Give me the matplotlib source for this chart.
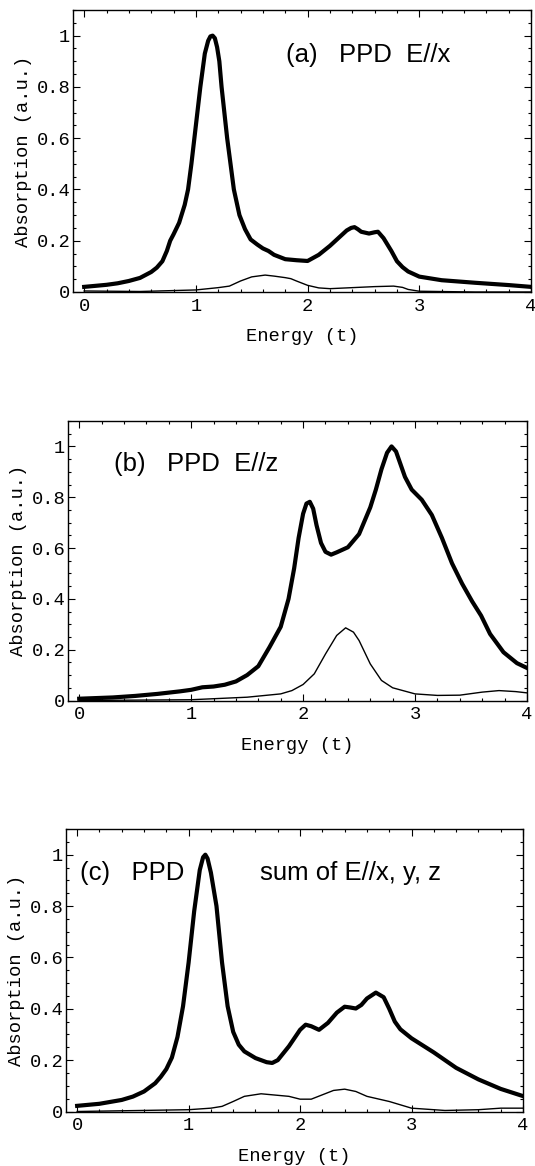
import matplotlib
matplotlib.use('Agg')
import matplotlib.pyplot as plt
from matplotlib.ticker import MultipleLocator

# ---- panel (a): PPD E//x ----
xa_thick = [0, 0.1, 0.2, 0.3, 0.4, 0.5, 0.6, 0.65, 0.7, 0.74, 0.77, 0.8, 0.85, 0.9, 0.93,
            0.96, 1.0, 1.04, 1.08, 1.11, 1.13, 1.15, 1.17, 1.19, 1.21, 1.23, 1.255, 1.28,
            1.31, 1.34, 1.39, 1.44, 1.49, 1.55, 1.6, 1.65, 1.7, 1.8, 1.9, 2.0, 2.1, 2.2,
            2.3, 2.35, 2.39, 2.42, 2.45, 2.48, 2.55, 2.6, 2.63, 2.68, 2.75, 2.8, 2.85,
            2.9, 3.0, 3.2, 3.5, 3.8, 4.0]
ya_thick = [0.020, 0.024, 0.028, 0.034, 0.043, 0.055, 0.078, 0.095, 0.12, 0.16, 0.2,
            0.225, 0.27, 0.34, 0.4, 0.5, 0.65, 0.8, 0.93, 0.98, 0.997, 1.0, 0.99, 0.955,
            0.9, 0.8, 0.7, 0.6, 0.5, 0.4, 0.3, 0.245, 0.205, 0.185, 0.17, 0.16, 0.145,
            0.128, 0.124, 0.121, 0.145, 0.18, 0.22, 0.24, 0.25, 0.253, 0.245, 0.235,
            0.228, 0.233, 0.235, 0.21, 0.16, 0.12, 0.097, 0.08, 0.06, 0.046, 0.036,
            0.027, 0.02]
xa_thin = [0, 0.5, 1.0, 1.2, 1.3, 1.4, 1.5, 1.62, 1.7, 1.8, 1.85, 1.9, 2.0, 2.1, 2.2,
           2.4, 2.6, 2.77, 2.85, 2.9, 3.0, 3.5, 4.0]
ya_thin = [0.004, 0.002, 0.008, 0.017, 0.023, 0.043, 0.059, 0.066, 0.062, 0.056,
           0.052, 0.043, 0.026, 0.016, 0.013, 0.017, 0.021, 0.023, 0.018, 0.01,
           0.003, 0.0, 0.0]

# ---- panel (b): PPD E//z ----
xb_thick = [0, 0.3, 0.5, 0.7, 0.9, 1.0, 1.1, 1.2, 1.3, 1.4, 1.5, 1.6, 1.7, 1.8, 1.87,
            1.92, 1.96, 2.0, 2.03, 2.06, 2.09, 2.12, 2.16, 2.2, 2.25, 2.3, 2.4, 2.5,
            2.6, 2.65, 2.7, 2.75, 2.79, 2.83, 2.87, 2.91, 2.97, 3.06, 3.15, 3.24, 3.33,
            3.42, 3.51, 3.59, 3.67, 3.79, 3.91, 4.0]
yb_thick = [0.007, 0.012, 0.018, 0.026, 0.036, 0.042, 0.052, 0.055, 0.062, 0.075,
            0.1, 0.135, 0.21, 0.29, 0.4, 0.52, 0.64, 0.735, 0.775, 0.782, 0.755,
            0.69, 0.62, 0.585, 0.574, 0.583, 0.603, 0.655, 0.76, 0.83, 0.91, 0.975,
            1.0, 0.98, 0.93, 0.88, 0.83, 0.79, 0.73, 0.64, 0.54, 0.46, 0.39, 0.334,
            0.262, 0.19, 0.147, 0.128]
xb_thin = [0, 1.0, 1.5, 1.8, 1.9, 2.0, 2.1, 2.2, 2.3, 2.38, 2.45, 2.5, 2.6, 2.7, 2.8,
           3.0, 3.2, 3.4, 3.6, 3.75, 3.9, 4.0]
yb_thin = [0.0, 0.003, 0.013, 0.026, 0.039, 0.063, 0.105, 0.183, 0.256, 0.286,
           0.269, 0.236, 0.144, 0.079, 0.05, 0.026, 0.02, 0.021, 0.033, 0.039,
           0.035, 0.03]

# ---- panel (c): PPD sum of E//x, y, z ----
xc_thick = [0, 0.2, 0.4, 0.5, 0.6, 0.7, 0.75, 0.8, 0.85, 0.9, 0.95, 1.0, 1.05, 1.1,
            1.13, 1.15, 1.17, 1.2, 1.25, 1.3, 1.35, 1.4, 1.45, 1.5, 1.6, 1.7, 1.75,
            1.8, 1.9, 2.0, 2.05, 2.1, 2.17, 2.25, 2.33, 2.4, 2.45, 2.5, 2.55, 2.6,
            2.68, 2.75, 2.8, 2.85, 2.9, 3.0, 3.2, 3.4, 3.6, 3.8, 4.0]
yc_thick = [0.022, 0.03, 0.045, 0.058, 0.078, 0.11, 0.135, 0.165, 0.21, 0.29, 0.41,
            0.58, 0.78, 0.94, 0.99, 1.0, 0.985, 0.93, 0.8, 0.58, 0.41, 0.31, 0.26,
            0.234, 0.208, 0.192, 0.189, 0.2, 0.254, 0.318, 0.338, 0.332, 0.318,
            0.345, 0.385, 0.408, 0.405, 0.401, 0.415, 0.44, 0.463, 0.445, 0.4, 0.35,
            0.32, 0.285, 0.23, 0.17, 0.125, 0.088, 0.06]
xc_thin = [0, 1.0, 1.2, 1.3, 1.4, 1.5, 1.65, 1.8, 1.9, 2.0, 2.1, 2.2, 2.3, 2.4, 2.5,
           2.6, 2.8, 3.0, 3.3, 3.6, 3.8, 4.0]
yc_thin = [0.0, 0.007, 0.013, 0.02, 0.039, 0.059, 0.069, 0.063, 0.059, 0.048,
           0.048, 0.065, 0.082, 0.087, 0.078, 0.059, 0.039, 0.013, 0.004, 0.007,
           0.013, 0.013]

x_ticks = [0, 1, 2, 3, 4]
x_tick_labels = ['0', '1', '2', '3', '4']
y_ticks = [0, 0.2, 0.4, 0.6, 0.8, 1.0]
y_tick_labels = ['0', '0.2', '0.4', '0.6', '0.8', '1']

MONO = 'Liberation Mono'
SANS = 'Liberation Sans'
W, H = 535, 1166


def make_axes(fig, left, right, top, bottom):
    """axes from pixel box of the frame"""
    return fig.add_axes([left / W, (H - bottom) / H, (right - left) / W, (bottom - top) / H])


def style(ax):
    ax.set_xlim(-0.1, 4.0)
    ax.set_ylim(0, 1.1)
    ax.set_xticks(x_ticks)
    ax.set_xticklabels(x_tick_labels, family=MONO, fontsize=13.5)
    ax.set_yticks(y_ticks)
    ax.set_yticklabels(y_tick_labels, family=MONO, fontsize=13.5)
    ax.xaxis.set_minor_locator(MultipleLocator(0.2))
    ax.yaxis.set_minor_locator(MultipleLocator(0.05))
    ax.tick_params(which='both', direction='in', top=True, right=True, width=0.8)
    ax.tick_params(which='major', length=5)
    ax.tick_params(which='minor', length=2.5)
    ax.tick_params(axis='x', pad=4)
    ax.tick_params(axis='y', pad=2)
    for s in ax.spines.values():
        s.set_linewidth(1.0)
    ax.set_xlabel('Energy (t)', family=MONO, fontsize=13.5, labelpad=10)
    ax.set_ylabel('Absorption (a.u.)', family=MONO, fontsize=13.5, labelpad=3)


fig = plt.figure(figsize=(W / 100, H / 100), dpi=100)

ax1 = make_axes(fig, 73, 531, 10, 292)
ax1.plot(xa_thick, ya_thick, color='black', lw=3.0, solid_joinstyle='round')
ax1.plot(xa_thin, ya_thin, color='black', lw=1.0)
style(ax1)
ax1.text(1.81, 0.925, '(a)   PPD  E//x', family=SANS, fontsize=18.5, va='center', ha='left')

ax2 = make_axes(fig, 68, 527, 421, 700.5)
ax2.plot(xb_thick, yb_thick, color='black', lw=3.0, solid_joinstyle='round')
ax2.plot(xb_thin, yb_thin, color='black', lw=1.0)
style(ax2)
ax2.text(0.31, 0.93, '(b)   PPD  E//z', family=SANS, fontsize=18.5, va='center', ha='left')

ax3 = make_axes(fig, 66, 523, 829, 1111.5)
ax3.plot(xc_thick, yc_thick, color='black', lw=3.0, solid_joinstyle='round')
ax3.plot(xc_thin, yc_thin, color='black', lw=1.0)
style(ax3)
ax3.text(0.03, 0.93, '(c)   PPD', family=SANS, fontsize=18.5, va='center', ha='left')
ax3.text(1.64, 0.93, 'sum of E//x, y, z', family=SANS, fontsize=18.5, va='center', ha='left')

fig.savefig('out.png', dpi=100)
